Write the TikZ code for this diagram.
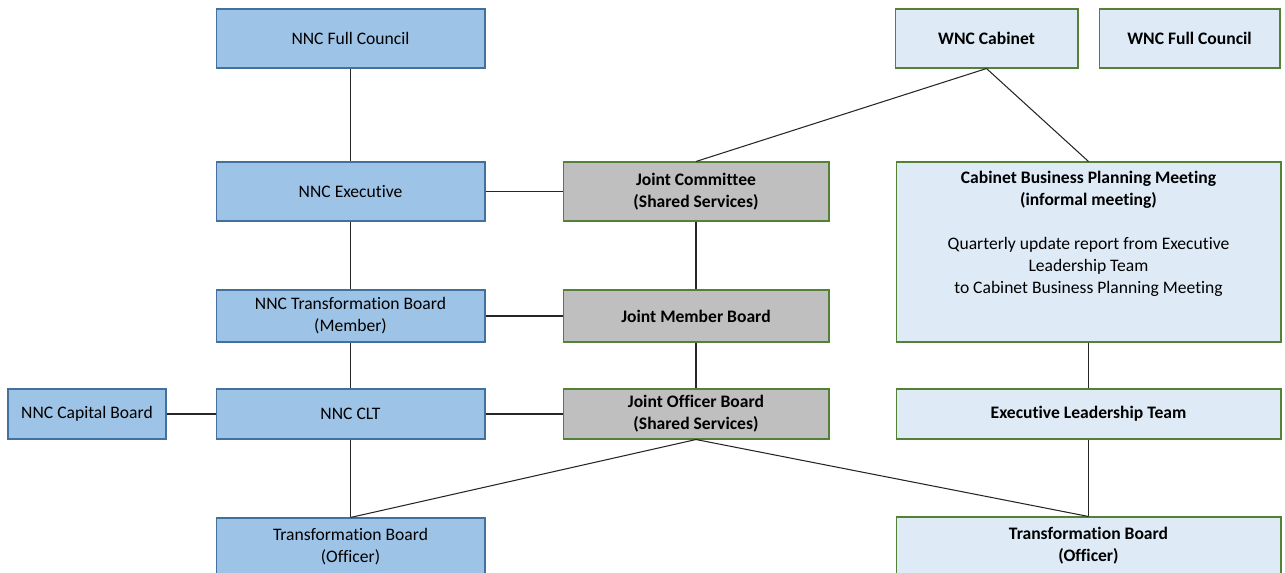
\documentclass[tikz,border=0pt]{standalone}
\usepackage{fontspec}
\setmainfont[Ligatures=NoCommon]{Carlito}
\usetikzlibrary{positioning}

\definecolor{nncfill}{HTML}{9DC3E6}
\definecolor{nncline}{HTML}{41719C}
\definecolor{jointfill}{HTML}{BFBFBF}
\definecolor{wncfill}{HTML}{DEEBF7}
\definecolor{wncline}{HTML}{538135}
\definecolor{linkgray}{HTML}{262626}

\tikzset{
  nncbox/.style={draw=nncline, fill=nncfill, line width=0.6pt, align=center,
    minimum width=5.38cm, font=\fontsize{10}{12.5}\selectfont, inner sep=0pt},
  jointbox/.style={draw=wncline, fill=jointfill, line width=0.6pt, align=center,
    minimum width=5.32cm, font=\fontsize{10}{12.5}\selectfont\bfseries, inner sep=0pt},
  wncbox/.style={draw=wncline, fill=wncfill, line width=0.6pt, align=center,
    font=\fontsize{10}{12.5}\selectfont\bfseries, inner sep=0pt},
  wnctext/.style={align=center, font=\fontsize{10}{12.5}\selectfont, inner sep=0pt},
  link/.style={draw=linkgray, line width=0.6pt},
}

\begin{document}
\begin{tikzpicture}[x=0.02cm, y=-0.02cm]
\useasboundingbox (0,0) rectangle (1285,572);

% NNC column
\node[nncbox, minimum height=1.18cm] (fullcouncil) at (350.5,38.5) {NNC Full Council};
\node[nncbox, minimum height=1.18cm] (executive) at (350.5,191.5) {NNC Executive};
\node[nncbox, minimum height=1.04cm] (tbmember) at (350.5,316) {NNC Transformation Board\\(Member)};
\node[nncbox, minimum height=1.0cm] (clt) at (350.5,414) {NNC CLT};
\node[nncbox, minimum height=1.0cm, minimum width=3.16cm] (capital) at (87,414) {NNC Capital Board};
\node[nncbox, minimum height=1.14cm] (tbofficer) at (350.5,546.5) {Transformation Board\\(Officer)};

% joint column
\node[jointbox, minimum height=1.18cm] (jcommittee) at (696,191.5) {Joint Committee\\(Shared Services)};
\node[jointbox, minimum height=1.04cm] (jmember) at (696,316) {Joint Member Board};
\node[jointbox, minimum height=1.0cm] (jofficer) at (696,414) {Joint Officer Board\\(Shared Services)};

% WNC column
\node[wncbox, minimum width=3.66cm, minimum height=1.18cm] (cabinet) at (986.5,38.5) {WNC Cabinet};
\node[wncbox, minimum width=3.62cm, minimum height=1.18cm] (wncfull) at (1189.5,38.5) {WNC Full Council};
\node[wncbox, minimum width=7.7cm, minimum height=3.6cm] (planning) at (1088.5,252) {};
\node[wnctext, below=0.18cm of planning.north] (planningtext) {\textbf{Cabinet Business Planning Meeting}\\\textbf{(informal meeting)}\\[1.3em]
  Quarterly update report from Executive\\Leadership Team\\to Cabinet Business Planning Meeting};
\node[wncbox, minimum width=7.7cm, minimum height=1.0cm] (elt) at (1088.5,414) {Executive Leadership Team};
\node[wncbox, minimum width=7.7cm, minimum height=1.14cm] (tbwnc) at (1088.5,545.5) {Transformation Board\\(Officer)};

% connectors
\draw[link] (fullcouncil) -- (executive);
\draw[link] (executive) -- (tbmember);
\draw[link] (tbmember) -- (clt);
\draw[link] (clt) -- (tbofficer);
\draw[link] (capital) -- (clt);
\draw[link] (executive) -- (jcommittee);
\draw[link] (tbmember) -- (jmember);
\draw[link] (clt) -- (jofficer);
\draw[link] (jcommittee) -- (jmember);
\draw[link] (jmember) -- (jofficer);
\draw[link] (jofficer.south) -- (tbofficer.north);
\draw[link] (jofficer.south) -- (tbwnc.north);
\draw[link] (cabinet.south) -- (jcommittee.north);
\draw[link] (cabinet.south) -- (planning.north);
\draw[link] (planning) -- (elt);
\draw[link] (elt) -- (tbwnc);
\end{tikzpicture}
\end{document}
